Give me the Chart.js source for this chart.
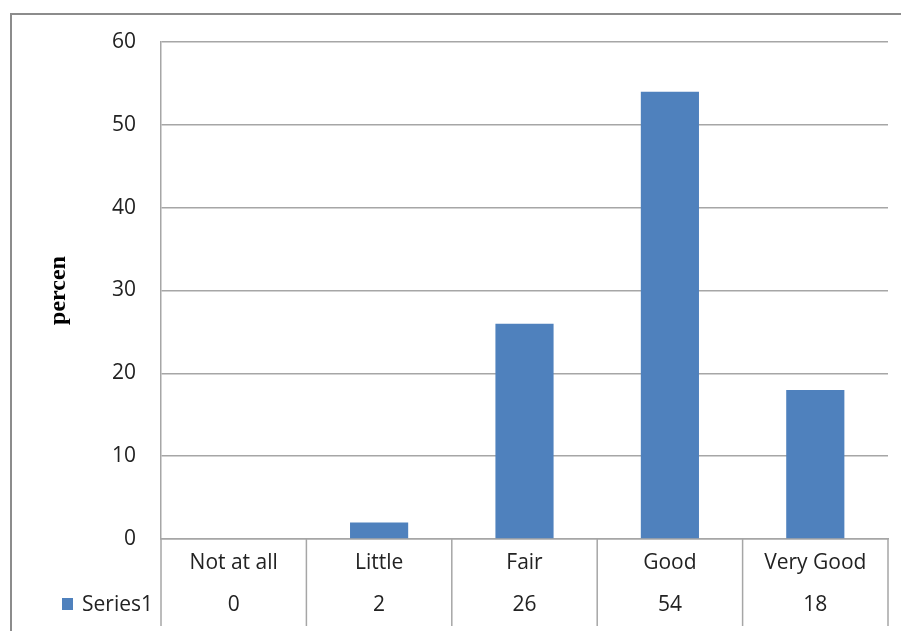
<!DOCTYPE html>
<html>
<head>
<meta charset="utf-8">
<script src="https://cdn.jsdelivr.net/npm/chart.js@4/dist/chart.umd.min.js"></script>
<style>
  html, body { margin: 0; padding: 0; background: #fff; }
  #wrap { width: 901px; height: 631px; position: relative; }
</style>
</head>
<body>
<div id="wrap"><canvas id="chart" width="901" height="631"></canvas></div>
<script>
// données du graphique
const categories = ['Not at all', 'Little', 'Fair', 'Good', 'Very Good'];
const seriesName = 'Series1';
const seriesValues = [0, 2, 26, 54, 18];
const yTicks = [0, 10, 20, 30, 40, 50, 60];
const yTitle = 'percen';

const barColor = '#4F81BD';
const lineColor = '#a6a6a6';
const textColor = '#222';
const labelFont = { family: "'Open Sans', sans-serif", size: 21 };

// cadre + tableau de données sous l'axe (style Excel)
const dataTablePlugin = {
  id: 'dataTable',
  beforeDraw(chart) {
    const ctx = chart.ctx;
    ctx.save();
    ctx.strokeStyle = '#8c8c8c';
    ctx.lineWidth = 2;
    ctx.strokeRect(11, 14, 1000, 1000);
    ctx.restore();
  },
  afterDraw(chart) {
    const ctx = chart.ctx;
    const x = chart.scales.x;
    const area = chart.chartArea;
    const half = (x.getPixelForValue(1) - x.getPixelForValue(0)) / 2;
    const yTop = area.bottom;
    const yBottom = 626;
    ctx.save();
    ctx.strokeStyle = lineColor;
    ctx.lineWidth = 1.5;
    for (let i = 0; i <= categories.length; i++) {
      const px = i < categories.length ? x.getPixelForValue(i) - half : x.getPixelForValue(i - 1) + half;
      ctx.beginPath();
      ctx.moveTo(px, yTop);
      ctx.lineTo(px, yBottom);
      ctx.stroke();
    }
    // ligne des valeurs
    ctx.font = labelFont.size + 'px ' + labelFont.family;
    ctx.fillStyle = textColor;
    ctx.textAlign = 'center';
    ctx.textBaseline = 'middle';
    seriesValues.forEach((v, i) => {
      ctx.fillText(String(v), x.getPixelForValue(i), 605);
    });
    // clé de légende
    ctx.fillStyle = barColor;
    ctx.fillRect(62, 598, 11, 12);
    ctx.fillStyle = textColor;
    ctx.textAlign = 'right';
    ctx.fillText(seriesName, area.left - 8, 605);
    ctx.restore();
  }
};

new Chart(document.getElementById('chart'), {
  type: 'bar',
  data: {
    labels: categories,
    datasets: [{
      label: seriesName,
      data: seriesValues,
      backgroundColor: barColor,
      borderWidth: 0,
      barPercentage: 0.4,
      categoryPercentage: 1
    }]
  },
  options: {
    responsive: false,
    animation: false,
    layout: { padding: { top: 42, right: 13, left: 0, bottom: 0 } },
    plugins: {
      legend: { display: false },
      tooltip: { enabled: false }
    },
    scales: {
      x: {
        grid: { display: false, drawTicks: false },
        border: { display: true, color: lineColor, width: 1.5 },
        ticks: { color: textColor, font: labelFont, padding: 11, maxRotation: 0 },
        afterFit(scale) { scale.height = 92; }
      },
      y: {
        min: 0,
        max: yTicks[yTicks.length - 1],
        afterBuildTicks(scale) { scale.ticks = yTicks.map(v => ({ value: v })); },
        grid: { color: lineColor, lineWidth: 1.5, drawTicks: false },
        border: { display: true, color: lineColor, width: 1.5 },
        ticks: { color: textColor, font: labelFont, padding: 25 },
        title: {
          display: true,
          text: yTitle,
          color: '#000',
          font: { family: "'Liberation Serif', serif", size: 24, weight: 'bold' },
          padding: { top: 44, bottom: 0 }
        },
        afterFit(scale) { scale.width = 161; }
      }
    }
  },
  plugins: [dataTablePlugin]
});
</script>
</body>
</html>
